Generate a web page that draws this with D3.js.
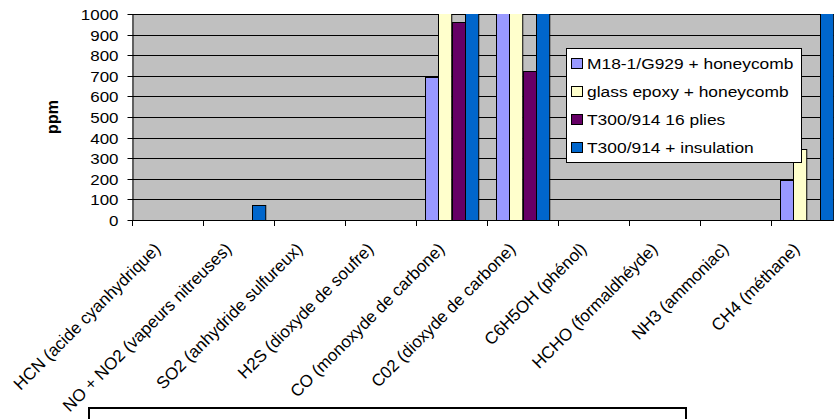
<!DOCTYPE html>
<html>
<head>
<meta charset="utf-8">
<script src="https://cdn.jsdelivr.net/npm/d3@7/dist/d3.min.js"></script>
<style>
  html, body { margin: 0; padding: 0; background: #ffffff; }
  svg { display: block; font-family: "Liberation Sans", Arial, sans-serif; }
</style>
</head>
<body>
<svg id="chart" width="834" height="419"></svg>
<script>
// Gas categories measured during the fire tests
const categories = [
  "HCN (acide cyanhydrique)",
  "NO + NO2 (vapeurs nitreuses)",
  "SO2 (anhydride sulfureux)",
  "H2S (dioxyde de soufre)",
  "CO (monoxyde de carbone)",
  "C02 (dioxyde de carbone)",
  "C6H5OH (phénol)",
  "HCHO (formaldhéyde)",
  "NH3 (ammoniac)",
  "CH4 (méthane)"
];

// Series names (legend order)
const seriesNames = [
  "M18-1/G929 + honeycomb",
  "glass epoxy + honeycomb",
  "T300/914 16 plies",
  "T300/914 + insulation"
];

// Concentrations in ppm (values above 1000 run past the top of the axis)
const m18Values        = [0, 0, 0, 0, 695, 5000, 0, 0, 0, 195];
const glassEpoxyValues = [0, 0, 0, 0, 1400, 6000, 0, 0, 0, 345];
const t300PliesValues  = [0, 0, 0, 0, 960, 725, 0, 0, 0, 0];
const t300InsulValues  = [0, 75, 0, 0, 1100, 8000, 0, 0, 0, 1500];

const seriesColors = ["#9999FF", "#FFFFCC", "#660066", "#0066CC"];
const yTickValues = [0, 100, 200, 300, 400, 500, 600, 700, 800, 900, 1000];

const seriesValues = [m18Values, glassEpoxyValues, t300PliesValues, t300InsulValues];

const svg = d3.select("#chart");

// Plot area
const plot = { left: 132, top: 14, right: 842, bottom: 220 };
const textStretch = 1.13;

const x = d3.scaleBand()
  .domain(categories)
  .range([plot.left, plot.right])
  .paddingInner(0)
  .paddingOuter(0);

const x1 = d3.scaleBand()
  .domain(seriesNames)
  .range([0, x.bandwidth()])
  .paddingInner(0)
  .paddingOuter(0.68);

const y = d3.scaleLinear()
  .domain([0, 1000])
  .range([plot.bottom, plot.top]);

const color = d3.scaleOrdinal().domain(seriesNames).range(seriesColors);

// Gray plot background
svg.append("rect")
  .attr("x", plot.left)
  .attr("y", plot.top)
  .attr("width", plot.right - plot.left)
  .attr("height", plot.bottom - plot.top)
  .attr("fill", "#C0C0C0");

// Horizontal gridlines
svg.append("g")
  .selectAll("line")
  .data(yTickValues.filter(v => v > 0))
  .join("line")
  .attr("x1", plot.left)
  .attr("x2", plot.right)
  .attr("y1", d => Math.round(y(d)) + 0.5)
  .attr("y2", d => Math.round(y(d)) + 0.5)
  .attr("stroke", "#000")
  .attr("stroke-width", 1);

// Clip columns to the plot area
svg.append("clipPath")
  .attr("id", "plot-clip")
  .append("rect")
  .attr("x", plot.left)
  .attr("y", plot.top)
  .attr("width", plot.right - plot.left)
  .attr("height", plot.bottom - plot.top + 1);

const barData = [];
categories.forEach((c, i) => {
  seriesNames.forEach((s, j) => {
    const v = seriesValues[j][i];
    if (v > 0) barData.push({ category: c, series: s, value: v });
  });
});

svg.append("g")
  .attr("clip-path", "url(#plot-clip)")
  .selectAll("rect")
  .data(barData)
  .join("rect")
  .attr("x", d => Math.round(x(d.category) + x1(d.series)) + 0.5)
  .attr("y", d => Math.round(y(d.value)) + 0.5)
  .attr("width", x1.bandwidth())
  .attr("height", d => Math.round(y(0)) - Math.round(y(d.value)))
  .attr("fill", d => color(d.series))
  .attr("stroke", "#000")
  .attr("stroke-width", 1);

// Y axis
const yAxis = svg.append("g")
  .attr("transform", `translate(${plot.left + 0.5},0)`)
  .call(d3.axisLeft(y)
    .tickValues(yTickValues)
    .tickFormat(d3.format("d"))
    .tickSize(5)
    .tickSizeOuter(0)
    .tickPadding(9));
yAxis.select(".domain").attr("stroke", "#000");
yAxis.selectAll(".tick line").attr("stroke", "#000").attr("x2", -5).attr("x1", 2);
yAxis.selectAll(".tick").attr("transform", d => `translate(0,${Math.round(y(d)) + 0.5})`);
yAxis.selectAll(".tick text")
  .attr("x", null)
  .attr("dy", "0.35em")
  .attr("transform", `translate(-14,0) scale(${textStretch},1)`)
  .attr("font-size", 15)
  .attr("font-family", "Liberation Sans, Arial, sans-serif")
  .attr("fill", "#000");

// X axis line and tick marks at category boundaries
const xAxis = svg.append("g");
xAxis.append("line")
  .attr("x1", plot.left)
  .attr("x2", plot.right)
  .attr("y1", plot.bottom + 0.5)
  .attr("y2", plot.bottom + 0.5)
  .attr("stroke", "#000");
const boundaries = categories.map(c => x(c)).concat([plot.right]);
xAxis.selectAll("line.tick")
  .data(boundaries)
  .join("line")
  .attr("class", "tick")
  .attr("x1", d => Math.round(d) + 0.5)
  .attr("x2", d => Math.round(d) + 0.5)
  .attr("y1", plot.bottom)
  .attr("y2", plot.bottom + 6)
  .attr("stroke", "#000");

// Rotated category labels
xAxis.selectAll("text")
  .data(categories)
  .join("text")
  .attr("transform", d => `translate(${x(d) + x.bandwidth() / 2 - 6},${plot.bottom + 30}) rotate(-45)`)
  .attr("text-anchor", "end")
  .attr("font-size", 17)
  .attr("fill", "#000")
  .text(d => d);

// Y axis title
svg.append("text")
  .attr("transform", "translate(58,117) rotate(-90)")
  .attr("text-anchor", "middle")
  .attr("font-size", 16)
  .attr("font-weight", "bold")
  .attr("fill", "#000")
  .text("ppm");

// Legend
const legend = svg.append("g").attr("transform", "translate(566,48)");
legend.append("rect")
  .attr("x", 0.5)
  .attr("y", 0.5)
  .attr("width", 235)
  .attr("height", 114)
  .attr("fill", "#fff")
  .attr("stroke", "#000");
const items = legend.selectAll("g.item")
  .data(seriesNames)
  .join("g")
  .attr("class", "item")
  .attr("transform", (d, i) => `translate(0,${15 + i * 28})`);
items.append("rect")
  .attr("x", 5.5)
  .attr("y", -4.5)
  .attr("width", 11)
  .attr("height", 10)
  .attr("fill", d => color(d))
  .attr("stroke", "#000");
items.append("text")
  .attr("transform", `translate(21,0) scale(${textStretch},1)`)
  .attr("dy", "0.36em")
  .attr("font-size", 15.4)
  .attr("fill", "#000")
  .text(d => d);

// Empty text frame below the chart
svg.append("rect")
  .attr("x", 89)
  .attr("y", 408)
  .attr("width", 597)
  .attr("height", 40)
  .attr("fill", "none")
  .attr("stroke", "#000")
  .attr("stroke-width", 2);
</script>
</body>
</html>
